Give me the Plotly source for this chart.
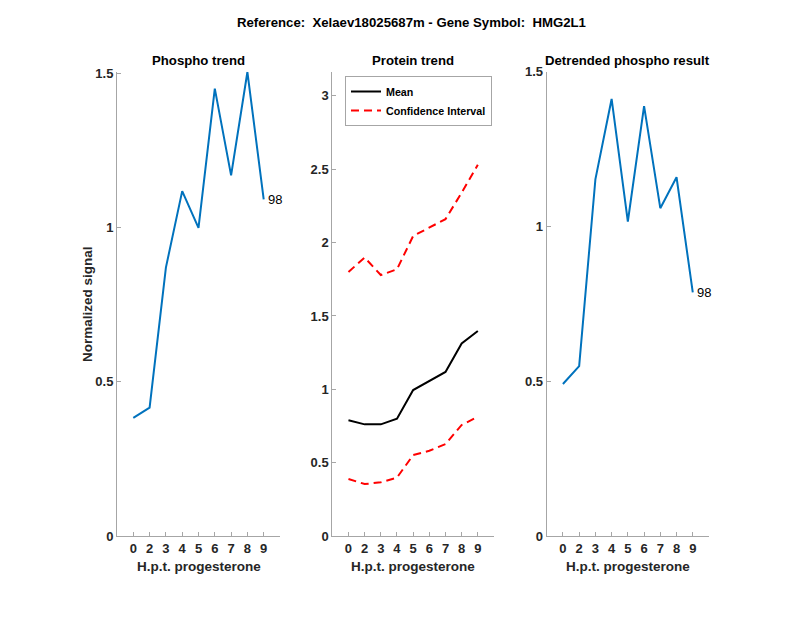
import plotly.graph_objects as go

# ---- data ----
tick_labels = ["0", "2", "3", "4", "5", "6", "7", "8", "9"]
positions = [1, 2, 3, 4, 5, 6, 7, 8, 9]
phospho = [0.383, 0.416, 0.870, 1.118, 0.999, 1.450, 1.169, 1.504, 1.091]
protein_mean = [0.789, 0.761, 0.761, 0.800, 0.995, 1.059, 1.118, 1.313, 1.397]
protein_upper = [1.800, 1.898, 1.779, 1.818, 2.045, 2.100, 2.160, 2.340, 2.530]
protein_lower = [0.389, 0.354, 0.366, 0.398, 0.552, 0.581, 0.627, 0.757, 0.813]
detrended = [0.491, 0.549, 1.152, 1.412, 1.016, 1.389, 1.059, 1.159, 0.787]
label_id = "98"

W, H = 800, 618
BLUE = "#0072BD"
AX = "#a6a6a6"
TXT = "#262626"
FONT = "Liberation Sans"

def px(x):
    return x / W

def py(y):
    return 1 - y / H

ytop, ybot = 71.7, 536
doms = [(117, 280), (332.3, 494), (546.7, 709)]

fig = go.Figure()

fig.add_trace(go.Scatter(x=positions, y=phospho, mode="lines", line=dict(color=BLUE, width=2),
                         xaxis="x", yaxis="y", showlegend=False))
fig.add_trace(go.Scatter(x=positions, y=protein_mean, mode="lines", name="Mean",
                         line=dict(color="black", width=2), xaxis="x2", yaxis="y2"))
fig.add_trace(go.Scatter(x=positions, y=protein_upper, mode="lines", name="Confidence Interval",
                         line=dict(color="#ff0000", width=2, dash="8px,5px"), xaxis="x2", yaxis="y2"))
fig.add_trace(go.Scatter(x=positions, y=protein_lower, mode="lines", name="Confidence Interval",
                         line=dict(color="#ff0000", width=2, dash="8px,5px"), xaxis="x2", yaxis="y2",
                         showlegend=False))
fig.add_trace(go.Scatter(x=positions, y=detrended, mode="lines", line=dict(color=BLUE, width=2),
                         xaxis="x3", yaxis="y3", showlegend=False))

def xax(i):
    d = doms[i]
    return dict(domain=[px(d[0]), px(d[1])], range=[0, 10], tickmode="array",
                tickvals=positions, ticktext=tick_labels, ticks="inside", ticklen=4,
                tickcolor=AX, showline=True, linecolor=AX, linewidth=1, showgrid=False,
                zeroline=False, tickfont=dict(family=FONT, size=13, color=TXT, weight="bold"),
                anchor=["y", "y2", "y3"][i], fixedrange=True, automargin=False)

def yax(i, rng, tv):
    return dict(domain=[py(ybot), py(ytop)], range=rng, tickmode="array", tickvals=tv,
                ticktext=[("%g" % v) for v in tv], ticks="inside", ticklen=4,
                tickcolor=AX, showline=True, linecolor=AX, linewidth=1, showgrid=False,
                zeroline=False, tickfont=dict(family=FONT, size=13, color=TXT, weight="bold"),
                anchor=["x", "x2", "x3"][i], fixedrange=True, automargin=False)

ann = []
ann.append(dict(text="Reference:\u00a0\u00a0Xelaev18025687m - Gene Symbol:\u00a0\u00a0HMG2L1",
                x=px(411), y=py(22), xref="paper", yref="paper", showarrow=False,
                xanchor="center", yanchor="middle",
                font=dict(family=FONT, size=13.2, color="black", weight="bold")))
titles = ["Phospho trend", "Protein trend", "Detrended phospho result"]
for i, t in enumerate(titles):
    c = (doms[i][0] + doms[i][1]) / 2
    ann.append(dict(text=t, x=px(c), y=py(61), xref="paper", yref="paper", showarrow=False,
                    xanchor="center", yanchor="middle",
                    font=dict(family=FONT, size=13.2, color="black", weight="bold")))
    ann.append(dict(text="H.p.t. progesterone", x=px(c), y=py(566), xref="paper", yref="paper",
                    showarrow=False, xanchor="center", yanchor="middle",
                    font=dict(family=FONT, size=13.5, color=TXT, weight="bold")))
ann.append(dict(text="Normalized signal", x=px(88), y=py(304), xref="paper", yref="paper",
                showarrow=False, textangle=-90, xanchor="center", yanchor="middle",
                font=dict(family=FONT, size=13.5, color=TXT, weight="bold")))
ann.append(dict(text=label_id, x=positions[-1], y=phospho[-1], xref="x", yref="y", showarrow=False,
                xanchor="left", yanchor="middle", xshift=2,
                font=dict(family=FONT, size=13, color="black")))
ann.append(dict(text=label_id, x=positions[-1], y=detrended[-1], xref="x3", yref="y3", showarrow=False,
                xanchor="left", yanchor="middle", xshift=2,
                font=dict(family=FONT, size=13, color="black")))

fig.update_layout(
    template="none",
    width=W, height=H, margin=dict(l=0, r=0, t=0, b=0, autoexpand=False),
    paper_bgcolor="white", plot_bgcolor="white",
    font=dict(family=FONT),
    xaxis=xax(0), xaxis2=xax(1), xaxis3=xax(2),
    yaxis=yax(0, [0, 1.505], [0, 0.5, 1, 1.5]),
    yaxis2=yax(1, [0, 3.165], [0, 0.5, 1, 1.5, 2, 2.5, 3]),
    yaxis3=yax(2, [0, 1.5], [0, 0.5, 1, 1.5]),
    annotations=ann,
    showlegend=True,
    legend=dict(x=px(345), y=py(76), xanchor="left", yanchor="top",
                bgcolor="white", bordercolor=AX, borderwidth=1,
                font=dict(family=FONT, size=10.7, color="black", weight="bold"),
                tracegroupgap=0, itemwidth=30),
)

fig.write_html("out.html", config={"displayModeBar": False},
               post_script="document.body.style.margin='0';document.body.style.overflow='hidden';")
